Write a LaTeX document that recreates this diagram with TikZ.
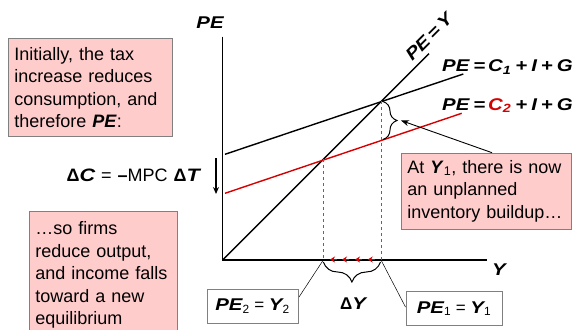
\documentclass[tikz,border=0pt]{standalone}
\usepackage{fontspec}
\setmainfont{Liberation Sans}
\newfontfamily\varfont[FakeStretch=1.2]{Liberation Sans}
\usetikzlibrary{arrows.meta,decorations.pathreplacing}
\definecolor{boxpink}{RGB}{255,204,204}
\definecolor{boxgray}{RGB}{128,128,128}
\definecolor{curvered}{RGB}{214,0,0}
\newcommand\vb[1]{{\varfont\bfseries\itshape #1}}
\newcommand\gap{\hspace{4pt}}
\begin{document}
\begin{tikzpicture}[x=1pt,y=-1pt,
  axis/.style={line width=1.2pt},
  curve/.style={line width=1.4pt},
  guide/.style={dashed, draw=black!60, line width=0.7pt},
  pinkbox/.style={draw=boxgray, fill=boxpink, line width=0.8pt, align=left,
    font=\fontsize{18}{22.5}\selectfont, inner xsep=6pt, inner ysep=4pt, anchor=north west},
  eqbox/.style={draw=boxgray, fill=white, line width=0.9pt,
    font=\fontsize{17}{20}\selectfont, minimum height=34pt, inner sep=0pt},
  lbl/.style={font=\fontsize{17}{20}\selectfont, inner sep=0pt},
  leader/.style={line width=0.5pt},
]
\useasboundingbox (0,0) rectangle (572,329);
\clip (0,0) rectangle (572,329);

% axes
\coordinate (O) at (222.7,260);
\coordinate (ytop) at (222.7,36.7);
\coordinate (xend) at (486.7,260);
\draw[axis] (ytop) -- (O) -- (xend);
\node[lbl, anchor=base] (pelab) at (210,28.5) {\vb{PE}};
\node[lbl, anchor=base] (ylab) at (499,275) {\vb{Y}};

% 45 degree line
\coordinate (l45end) at (429,53.7);
\draw[curve] (O) -- (l45end);
\node[lbl, rotate=45, anchor=base] (pey) at (433,41) {\vb{PE\,=\,Y}};

% PE1 line
\coordinate (pe1s) at (225,154.3);
\coordinate (pe1e) at (463.3,74);
\draw[curve] (pe1s) -- (pe1e);
% PE2 line
\coordinate (pe2s) at (225,193.3);
\coordinate (pe2e) at (461.7,113.3);
\draw[curve, curvered] (pe2s) -- (pe2e);

\node[lbl, anchor=base west] (eq1) at (442,71.5) {\vb{PE\gap=\,C\textsubscript{1}\gap+\gap I\gap+\gap G}};
\node[lbl, anchor=base west] (eq2) at (442,110) {\vb{PE\gap=\,\textcolor{curvered}{C\textsubscript{2}}\gap+\gap I\gap+\gap G}};

% intersections and guides
\coordinate (E1) at (381,101.3);
\coordinate (E2) at (323.3,159.3);
\coordinate (Y1) at (381,260);
\coordinate (Y2) at (323.3,260);
\draw[guide] (E1) -- (Y1);
\draw[guide] (E2) -- (Y2);

% brace at Y1
\coordinate (bt) at (383,101.5);
\coordinate (bb) at (383,139.5);
\draw[line width=1pt, decorate, decoration={brace, amplitude=14pt}] (bt) -- (bb);
\coordinate (btip) at (401,120.5);

% delta C label and arrow
\node[lbl, anchor=base east, font=\fontsize{18}{20}\selectfont] (dc) at (200,181) {\textbf{Δ}\vb{C}\hspace{6pt}=\hspace{6pt}\textbf{–}MPC\hspace{6pt}\textbf{Δ}\vb{T}};
\coordinate (da1) at (216,158);
\coordinate (da2) at (216,194);
\draw[line width=1.2pt, -{Stealth[length=7pt,width=6pt]}] (da1) -- (da2);

% red arrows along axis
\foreach \t in {330,342,355,367.7}{
  \draw[curvered, line width=1pt, -{Stealth[length=5pt,width=6pt]}] (\t+7,259.5) -- (\t,259.5);
}

% brace below axis
\coordinate (lb1) at (380.5,262);
\coordinate (lb2) at (323.3,262);
\draw[line width=1pt, decorate, decoration={brace, amplitude=20pt}] (lb1) -- (lb2);
\node[lbl, anchor=base] (dy) at (353,309) {\textbf{Δ}\vb{Y}};

% equation boxes
\node[eqbox, minimum width=91pt] (pe2box) at (252.5,306) {\vb{PE}\textsubscript{2} = \vb{Y}\textsubscript{2}};
\node[eqbox, minimum width=96pt] (pe1box) at (454,308.5) {\vb{PE}\textsubscript{1} = \vb{Y}\textsubscript{1}};
\coordinate (p2a) at (299,297);
\coordinate (p1a) at (405.5,307);
\draw[leader] (p2a) -- (Y2);
\draw[leader] (p1a) -- (Y1);

% pink boxes
\node[pinkbox, text width=152pt, minimum height=98pt] (box1) at (8,38)
  {Initially, the tax\\increase reduces\\consumption, and\\therefore \textbf{\textit{PE}}:};
\node[pinkbox, text width=136pt, minimum height=127pt, anchor=north west] (box2) at (29,211)
  {…so firms\\reduce output,\\and income falls\\toward a new\\equilibrium};
\node[pinkbox, text width=158pt, minimum height=76pt] (box3) at (401,152.7)
  {At \textbf{\textit{Y}}\textsubscript{1}, there is now\\an unplanned\\inventory buildup…};
\coordinate (b3a) at (492,152.7);
\draw[line width=0.9pt, -{Stealth[length=8pt,width=6pt]}] (b3a) -- (btip);
\end{tikzpicture}
\end{document}
